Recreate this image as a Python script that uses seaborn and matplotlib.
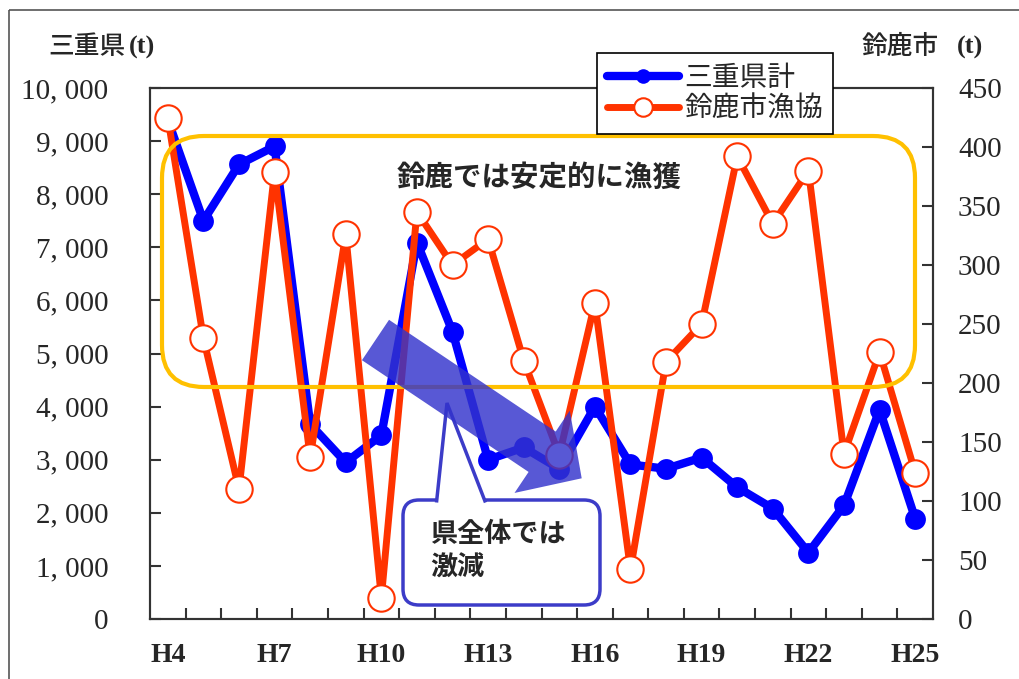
import matplotlib
matplotlib.use("Agg")
import matplotlib.pyplot as plt
import matplotlib.patches as mpatches
import matplotlib.transforms as mtransforms
import numpy as np
import pandas as pd
import seaborn as sns

# data
years = list(range(4, 26))  # Heisei 4 .. 25
year_labels = ['H%d' % y for y in years]
mie_total = [9400, 7500, 8560, 8900, 3670, 2950, 3460, 7090, 5410, 3000, 3230,
             2830, 4000, 2910, 2830, 3040, 2480, 2080, 1250, 2140, 3940, 1890]
suzuka = [425, 238, 110, 379, 137, 326, 18, 345, 300, 322, 219,
          139, 268, 42, 218, 250, 392, 335, 380, 140, 226, 124]

left_ticks = [0, 1000, 2000, 3000, 4000, 5000, 6000, 7000, 8000, 9000, 10000]
left_tick_labels = ['0', '1, 000', '2, 000', '3, 000', '4, 000', '5, 000',
                    '6, 000', '7, 000', '8, 000', '9, 000', '10, 000']
right_ticks = [0, 50, 100, 150, 200, 250, 300, 350, 400, 450]
right_tick_labels = ['0', '50', '100', '150', '200', '250', '300', '350', '400', '450']

series_names = ['三重県計', '鈴鹿市漁協']

sns.set_style('white')
plt.rcParams['font.family'] = ['Noto Sans CJK JP', 'DejaVu Sans']

BLUE = '#0000FF'
ORANGE = '#FF3300'
GOLD = '#FFC000'
CALLOUT = '#3C3CC8'
SPINE = '#333333'

W, H = 1019, 679
fig = plt.figure(figsize=(W / 100, H / 100), dpi=100)
# pixel coordinates measured from the top-left corner
px = mtransforms.Affine2D().scale(1, -1).translate(0, H)

ax = fig.add_axes([150 / W, 1 - 619 / H, (933 - 150) / W, (619 - 88) / H])
ax2 = ax.twinx()

df = pd.DataFrame({'year': years, 'mie': mie_total, 'suzuka': suzuka})

sns.lineplot(data=df, x='year', y='mie', ax=ax, color=BLUE, linewidth=6,
             marker='o', markersize=15, markerfacecolor=BLUE,
             markeredgecolor=BLUE, markeredgewidth=0, label=series_names[0])
sns.lineplot(data=df, x='year', y='suzuka', ax=ax2, color=ORANGE, linewidth=5,
             marker='o', markersize=19, markerfacecolor='white',
             markeredgecolor=ORANGE, markeredgewidth=1.5, label=series_names[1])

for a in (ax, ax2):
    if a.get_legend() is not None:
        a.get_legend().remove()
    a.set_xlabel('')
    a.set_ylabel('')
    for s in a.spines.values():
        s.set_color(SPINE)
        s.set_linewidth(1.5)

# x axis: labels every 3 years, ticks between categories
ax.set_xlim(3.5, 25.5)
ax.set_xticks(years[::3], year_labels[::3], fontfamily='Liberation Serif',
              fontsize=20, fontweight='bold')
ax.set_xticks(np.arange(4.5, 25, 1.0), minor=True)
ax.tick_params(axis='x', which='major', length=0, pad=17)
ax.tick_params(axis='x', which='minor', direction='in', length=8, width=1.5,
               color=SPINE, bottom=True)

ax.set_ylim(0, 10000)
ax.set_yticks(left_ticks, left_tick_labels, fontfamily='Liberation Serif',
              fontsize=21)
ax.tick_params(axis='y', direction='in', length=8, width=1.5, color=SPINE,
               pad=30, left=True)

ax2.set_ylim(0, 450)
ax2.set_yticks(right_ticks, right_tick_labels, fontfamily='Liberation Serif',
               fontsize=21)
ax2.tick_params(axis='y', direction='in', length=8, width=1.5, color=SPINE,
                pad=18, right=True)

# axis titles
fig.text(48, 47, '三重県', transform=px, fontsize=18.5, fontweight='medium',
         va='center', ha='left')
fig.text(129, 47, '(t)', transform=px, fontsize=19, family='Liberation Serif',
         fontweight='bold', va='center', ha='left')
fig.text(862, 47, '鈴鹿市', transform=px, fontsize=18.5, fontweight='medium',
         va='center', ha='left')
fig.text(957, 47, '(t)', transform=px, fontsize=19, family='Liberation Serif',
         fontweight='bold', va='center', ha='left')

# legend
h1 = ax.get_lines()[0]
h2 = ax2.get_lines()[0]
leg = fig.legend([h1, h2], series_names, loc='upper left',
                 bbox_to_anchor=(597 / W, 1 - 53 / H), fontsize=20,
                 frameon=True, fancybox=False, edgecolor='black',
                 borderpad=0.35, labelspacing=0.05, handlelength=2.6,
                 handletextpad=0.2, borderaxespad=0, markerscale=0.7)
leg.get_frame().set_linewidth(1.2)
leg.get_frame().set_alpha(1)

# outer frame
fig.add_artist(mpatches.Rectangle((9, 10), 1100, 700, transform=px,
                                  fill=False, ec='#555555', lw=1.2))

# gold rounded box with note
fig.add_artist(mpatches.FancyBboxPatch(
    (162, 136), 915 - 162, 387 - 136,
    boxstyle='round,pad=0,rounding_size=42', transform=px,
    fill=False, ec=GOLD, lw=3))
fig.text(539, 178, '鈴鹿では安定的に漁獲', transform=px, fontsize=20.5,
         fontweight='bold', ha='center', va='center')

# callout box
fig.add_artist(mpatches.FancyBboxPatch(
    (403, 500), 600 - 403, 605 - 500,
    boxstyle='round,pad=0,rounding_size=16', transform=px,
    fc='white', ec=CALLOUT, lw=2.5))
fig.add_artist(mpatches.Polygon([(436.5, 502.5), (447, 403), (485.5, 502.5)],
                                closed=False, transform=px, fc='white',
                                ec=CALLOUT, lw=2.5, joinstyle='miter'))
fig.text(430, 551, '県全体では\n激減', transform=px, fontsize=19.5,
         fontweight='bold', ha='left', va='center', linespacing=1.25)

# big translucent arrow
fig.add_artist(mpatches.FancyArrowPatch(
    (375.5, 340), (581.7, 478.3), transform=px,
    arrowstyle='simple,head_length=0.98,head_width=2.04,tail_width=1.0',
    mutation_scale=35, shrinkA=0, shrinkB=0,
    fc='#3333CC', ec='none', alpha=0.82))

fig.savefig('out.png', dpi=100)
